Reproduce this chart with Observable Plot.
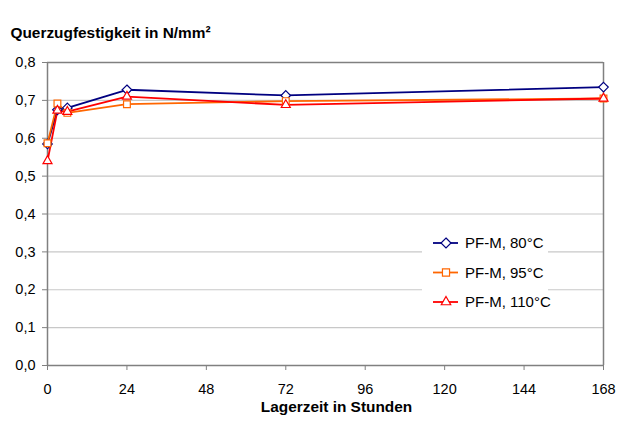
<!DOCTYPE html>
<html>
<head>
<meta charset="utf-8">
<script src="https://cdn.jsdelivr.net/npm/d3@7"></script>
<script src="https://cdn.jsdelivr.net/npm/@observablehq/plot@0.6"></script>
<style>
  html, body { margin: 0; padding: 0; background: #fff; }
  #wrap { position: relative; width: 619px; height: 421px; font-family: "Liberation Sans", Arial, sans-serif; }
  #legend { position: absolute; left: 422px; top: 226px; }
</style>
</head>
<body>
<div id="wrap"></div>
<script>
// Data
const hours = [0, 3, 6, 24, 72, 168];
const series80 = [0.585, 0.675, 0.68, 0.728, 0.713, 0.735];
const series95 = [0.587, 0.692, 0.667, 0.690, 0.698, 0.705];
const series110 = [0.540, 0.673, 0.670, 0.710, 0.688, 0.705];
const seriesNames = ["PF-M, 80°C", "PF-M, 95°C", "PF-M, 110°C"];
const seriesColors = ["#000080", "#ff6600", "#ff0000"];
const seriesSymbols = ["diamond2", "square2", "triangle2"];
const xTicks = [0, 24, 48, 72, 96, 120, 144, 168];
const yTicks = [0, 0.1, 0.2, 0.3, 0.4, 0.5, 0.6, 0.7, 0.8];
const yTitle = "Querzugfestigkeit in N/mm²";
const xTitle = "Lagerzeit in Stunden";

const allValues = [series80, series95, series110];
const rows = [];
allValues.forEach((vals, si) => vals.forEach((v, i) => rows.push({series: seriesNames[si], x: hours[i], y: v})));

const fmt = d => d.toFixed(1).replace(".", ",");

const chart = Plot.plot({
  width: 619,
  height: 421,
  marginLeft: 47,
  marginRight: 16,
  marginTop: 62,
  marginBottom: 56,
  style: {fontFamily: "'Liberation Sans', Arial, sans-serif", fontSize: "14.5px", color: "#000", background: "#fff"},
  x: {domain: [0, 168]},
  y: {domain: [0, 0.8]},
  color: {domain: seriesNames, range: seriesColors},
  symbol: {domain: seriesNames, range: seriesSymbols},
  marks: [
    Plot.ruleY(yTicks.filter(d => d > 0 && d < 0.8), {stroke: "#c8c8c8", strokeWidth: 1.2}),
    Plot.ruleY([0.8], {stroke: "#808080", strokeWidth: 1.5}),
    Plot.ruleX([168], {stroke: "#808080", strokeWidth: 1.5}),
    Plot.ruleX([0], {stroke: "#808080", strokeWidth: 1.5}),
    Plot.ruleY([0], {stroke: "#808080", strokeWidth: 1.5}),
    Plot.axisY({ticks: yTicks, tickFormat: fmt, tickSize: 5, tickPadding: 7, stroke: "#808080", label: null, fontSize: 14.5}),
    Plot.axisX({ticks: xTicks, tickFormat: d => String(d), tickSize: 5, tickPadding: 13, stroke: "#808080", label: null, fontSize: 14.5}),
    Plot.line(rows, {x: "x", y: "y", z: "series", stroke: "series", strokeWidth: 1.8}),
    Plot.dot(rows, {x: "x", y: "y", stroke: "series", symbol: "series", fill: "#fff", r: 4.3, strokeWidth: 1.2}),
    Plot.text([yTitle], {frameAnchor: "top-left", textAnchor: "start", dx: -37, dy: -35, fontWeight: "bold", fontSize: 15.4}),
    Plot.text([xTitle], {frameAnchor: "bottom", dx: 11, dy: 46, fontWeight: "bold", fontSize: 15.4})
  ]
});
const wrap = document.getElementById("wrap");
wrap.appendChild(chart);

// Legend
const lg = d3.select(wrap).append("svg").attr("id", "legend").attr("width", 160).attr("height", 92);
lg.append("rect").attr("width", 126).attr("height", 92).attr("fill", "#fff");
const sym = d3.scaleOrdinal().domain(seriesNames).range([d3.symbolDiamond2, d3.symbolSquare2, d3.symbolTriangle2]);
seriesNames.forEach((name, i) => {
  const g = lg.append("g").attr("transform", `translate(0, ${17 + i * 29.5})`);
  g.append("line").attr("x1", 11).attr("x2", 36).attr("stroke", seriesColors[i]).attr("stroke-width", 1.8);
  g.append("path").attr("transform", "translate(24,0)").attr("d", d3.symbol(sym(name), 64)()).attr("fill", "#fff").attr("stroke", seriesColors[i]).attr("stroke-width", 1.2);
  g.append("text").attr("x", 43).attr("dy", "0.35em").attr("font-size", 15).attr("font-family", "'Liberation Sans', Arial, sans-serif").text(name);
});
</script>
</body>
</html>
